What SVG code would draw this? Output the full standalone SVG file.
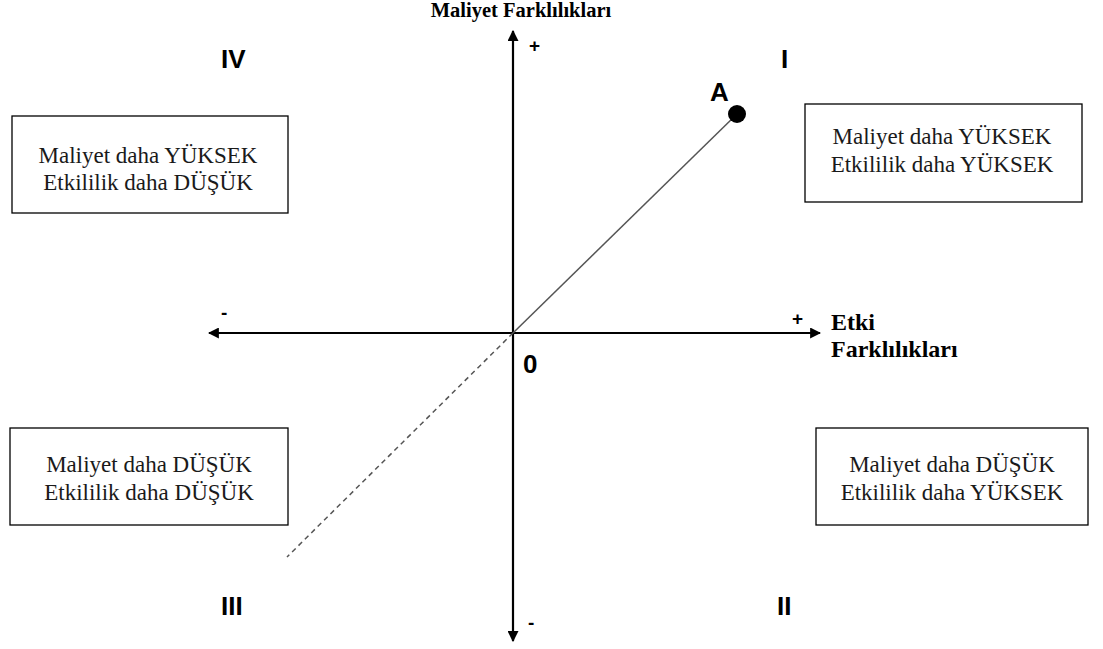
<svg xmlns="http://www.w3.org/2000/svg" width="1103" height="649" viewBox="0 0 1103 649">
<style>
.box{fill:#fff;stroke:#000;stroke-width:1.3}
.bt{font-family:"Liberation Serif",serif;font-size:23px;fill:#1a1a1a;text-anchor:middle}
.ax{font-family:"Liberation Serif",serif;font-weight:bold;fill:#000}
.rn{font-family:"Liberation Sans",Arial,sans-serif;font-size:26px;font-weight:bold;fill:#000}
.sg{font-family:"Liberation Sans",Arial,sans-serif;font-size:19px;font-weight:bold;fill:#000}
.axis{stroke:#000;stroke-width:2.2;fill:none}
</style>
<defs>
<marker id="ah" viewBox="0 0 10 10" refX="9" refY="5" markerWidth="5" markerHeight="5" orient="auto" markerUnits="strokeWidth">
<path d="M0,0 L10,5 L0,10 z" fill="#000"/>
</marker>
</defs>
<g id="connectors">
<line class="axis" x1="513" y1="333" x2="513" y2="31" marker-end="url(#ah)"/>
<line class="axis" x1="513" y1="333" x2="513" y2="641" marker-end="url(#ah)"/>
<line class="axis" x1="513" y1="333" x2="209" y2="333" marker-end="url(#ah)"/>
<line class="axis" x1="513" y1="333" x2="820" y2="333" marker-end="url(#ah)"/>
<line x1="513" y1="333" x2="737" y2="114" stroke="#555" stroke-width="1.5"/>
<line x1="513" y1="333" x2="287" y2="557" stroke="#555" stroke-width="1.5" stroke-dasharray="5,4"/>
</g>
<g id="axis-labels">
<text class="ax" x="521" y="17" text-anchor="middle" font-size="20.5">Maliyet Farklılıkları</text>
<text class="ax" x="831" y="330" font-size="24">Etki</text>
<text class="ax" x="831" y="357" font-size="24">Farklılıkları</text>
<text class="sg" x="529" y="52">+</text>
<text class="sg" x="221" y="319">-</text>
<text class="sg" x="792" y="325">+</text>
<text class="sg" x="528" y="629">-</text>
<text class="rn" x="523" y="373">0</text>
</g>
<g id="quadrant-labels">
<text class="rn" x="221" y="68">IV</text>
<text class="rn" x="781" y="68">I</text>
<text class="rn" x="221" y="615">III</text>
<text class="rn" x="777" y="615">II</text>
</g>
<g id="point-A">
<circle cx="737" cy="114" r="9" fill="#000"/>
<text class="rn" x="710" y="101">A</text>
</g>
<g id="box-IV">
<rect class="box" x="12" y="116" width="276" height="97"/>
<text class="bt" x="148" y="163">Maliyet daha YÜKSEK</text>
<text class="bt" x="148" y="190">Etkililik daha DÜŞÜK</text>
</g>
<g id="box-I">
<rect class="box" x="805" y="104" width="277" height="98"/>
<text class="bt" x="942" y="144">Maliyet daha YÜKSEK</text>
<text class="bt" x="942" y="172">Etkililik daha YÜKSEK</text>
</g>
<g id="box-III">
<rect class="box" x="10" y="428" width="278" height="97"/>
<text class="bt" x="149" y="472">Maliyet daha DÜŞÜK</text>
<text class="bt" x="149" y="500">Etkililik daha DÜŞÜK</text>
</g>
<g id="box-II">
<rect class="box" x="816" y="428" width="272" height="97"/>
<text class="bt" x="952" y="472">Maliyet daha DÜŞÜK</text>
<text class="bt" x="952" y="500">Etkililik daha YÜKSEK</text>
</g>
</svg>
